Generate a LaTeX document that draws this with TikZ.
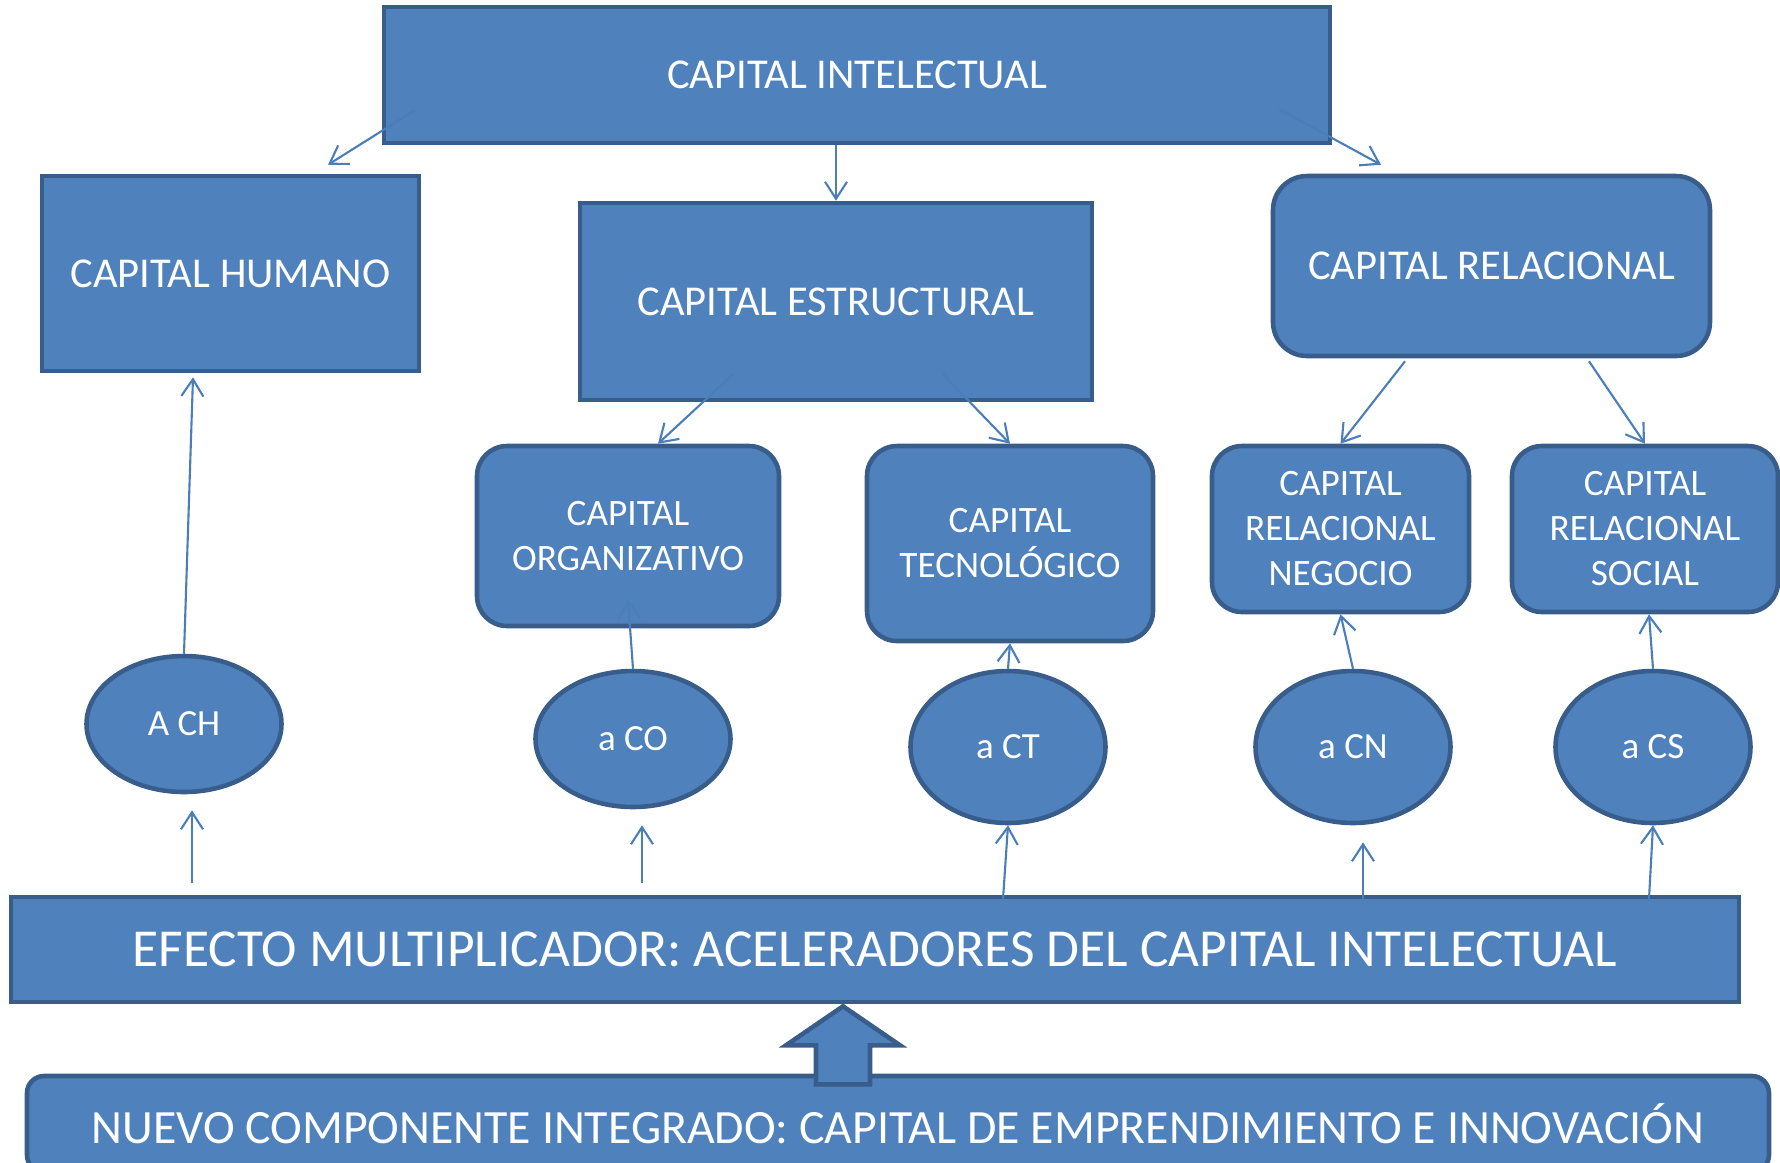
\documentclass[tikz,border=0pt]{standalone}
\usepackage{fontspec}
\setmainfont{Carlito}
\usetikzlibrary{positioning,shapes.geometric,arrows.meta}
\definecolor{boxfill}{HTML}{4F81BD}
\definecolor{boxline}{HTML}{385D8A}
\definecolor{arrowblue}{HTML}{4A7EBB}
\begin{document}
\begin{tikzpicture}[squarednode/.style={rectangle, 
					line width=1.3pt,
					draw=boxline, 
					fill=boxfill,
					text=white,
					align=center,
					font=\fontsize{12.1}{14}\selectfont},
					roundednode/.style={squarednode,
					rounded corners=0.3cm,
					font=\fontsize{10.6}{12.8}\selectfont},
					ellipsenode/.style={ellipse,
					line width=1.3pt,
					draw=boxline, 
					fill=boxfill,
					text=white,
					minimum width=1.95cm,
					minimum height=1.52cm,
					font=\fontsize{10.5}{12.8}\selectfont},
					widenode/.style={squarednode,
					font=\fontsize{15.2}{17}\selectfont},
					conn/.style={-{Straight Barb[length=1.7mm,width=2.2mm]},
					line width=0.6pt,
					draw=arrowblue}
					]

\useasboundingbox (0,0) rectangle (17.8,-11.62);
\clip (0,0) rectangle (17.8,-11.62);

%top node
\node[squarednode, minimum width=9.46cm, minimum height=1.36cm]  (Intel) at (8.57,-0.75) {CAPITAL INTELECTUAL};

%second level
\node[squarednode, minimum width=5.12cm, minimum height=1.97cm]  (Estruc) [below of = Intel, node distance = 2.265cm, xshift=-0.21cm] {CAPITAL ESTRUCTURAL};
\node[squarednode, minimum width=3.77cm, minimum height=1.95cm]  (Humano) [left of = Estruc, node distance = 6.055cm, yshift=0.28cm] {CAPITAL HUMANO};
\node[squarednode, rounded corners=0.34cm, minimum width=4.37cm, minimum height=1.8cm]  (Relac) [right of = Estruc, node distance = 6.555cm, yshift=0.355cm] {CAPITAL RELACIONAL};

% third level
\node[roundednode, minimum width=3.02cm, minimum height=1.8cm]  (Organiz) [below of = Estruc, node distance = 2.345cm, xshift=-2.08cm] {CAPITAL\\ORGANIZATIVO};
\node[roundednode, minimum width=2.86cm, minimum height=1.95cm]  (Tecno) [right of = Organiz, node distance = 3.82cm, yshift=-0.075cm] {CAPITAL\\TECNOLÓGICO};
\node[roundednode, minimum width=2.57cm, minimum height=1.66cm]  (RelNeg) [below of = Relac, node distance = 2.63cm, xshift=-1.51cm] {CAPITAL\\RELACIONAL\\NEGOCIO};
\node[roundednode, minimum width=2.66cm, minimum height=1.66cm]  (RelSoc) [right of = RelNeg, node distance = 3.045cm] {CAPITAL\\RELACIONAL\\SOCIAL};

% accelerators
\node[ellipsenode, minimum height=1.36cm]  (aCH) [below of = Humano, node distance = 4.505cm, xshift=-0.465cm] {A CH};
\node[ellipsenode, minimum height=1.36cm]  (aCO) [below of = Organiz, node distance = 2.03cm, xshift=0.05cm] {a CO};
\node[ellipsenode]  (aCT) [below of = Tecno, node distance = 2.035cm, xshift=-0.02cm] {a CT};
\node[ellipsenode]  (aCN) [right of = aCT, node distance = 3.45cm] {a CN};
\node[ellipsenode]  (aCS) [right of = aCN, node distance = 3cm] {a CS};

% bottom bars
\node[widenode, minimum width=17.28cm, minimum height=1.05cm]  (Efecto) [below of = Intel, node distance = 8.745cm, xshift=0.18cm] {EFECTO MULTIPLICADOR: ACELERADORES DEL CAPITAL INTELECTUAL};
\node[widenode, font=\fontsize{13.6}{16}\selectfont, rounded corners=0.17cm, minimum width=17.42cm, minimum height=0.96cm]  (Nuevo) [below of = Efecto, node distance = 1.745cm, xshift=0.23cm] {NUEVO COMPONENTE INTEGRADO: CAPITAL DE EMPRENDIMIENTO E INNOVACIÓN};

% big arrow
\coordinate (tip) at ([xshift=-0.32cm, yshift=-0.02cm]Efecto.south);
\draw[line width=1.3pt, draw=boxline, fill=boxfill] (tip) -- ++(0.57,-0.39) -- ++(-0.3,0) -- ++(0,-0.39) -- ++(-0.54,0) -- ++(0,0.39) -- ++(-0.3,0) -- cycle;

% Arrows 
\draw [conn] ([xshift=0.33cm, yshift=0.35cm]Intel.south west) -- ([xshift=0.975cm, yshift=0.09cm]Humano.north);
\draw [conn] (Estruc.north |- Intel.south) -- (Estruc.north);
\draw [conn] ([xshift=-0.53cm, yshift=0.36cm]Intel.south east) -- ([xshift=-1.105cm, yshift=0.09cm]Relac.north);

\draw [conn] ([xshift=-1.03cm, yshift=0.28cm]Estruc.south) -- ([xshift=0.3cm]Organiz.north);
\draw [conn] ([xshift=1.07cm, yshift=0.28cm]Estruc.south) -- (Tecno.north);
\draw [conn] ([xshift=-0.865cm, yshift=-0.03cm]Relac.south) -- (RelNeg.north);
\draw [conn] ([xshift=0.975cm, yshift=-0.03cm]Relac.south) -- (RelSoc.north);

\draw [conn] (aCH.north) -- ([xshift=-0.375cm, yshift=-0.04cm]Humano.south);
\draw [conn] (aCO.north) -- ([yshift=0.29cm]Organiz.south);
\draw [conn] (aCT.north) -- (Tecno.south);
\draw [conn] (aCN.north) -- (RelNeg.south);
\draw [conn] (aCS.north) -- ([xshift=0.04cm]RelSoc.south);

\draw [conn] ([xshift=0.08cm, yshift=-0.89cm]aCH.south) -- ([xshift=0.08cm, yshift=-0.16cm]aCH.south);
\draw [conn] ([xshift=0.09cm, yshift=-0.74cm]aCO.south) -- ([xshift=0.09cm, yshift=-0.16cm]aCO.south);
\draw [conn] ([xshift=-0.05cm, yshift=-0.74cm]aCT.south) -- (aCT.south);
\draw [conn] ([xshift=0.1cm, yshift=-0.74cm]aCN.south) -- ([xshift=0.1cm, yshift=-0.17cm]aCN.south);
\draw [conn] ([xshift=-0.04cm, yshift=-0.74cm]aCS.south) -- (aCS.south);

\end{tikzpicture}
\end{document}
